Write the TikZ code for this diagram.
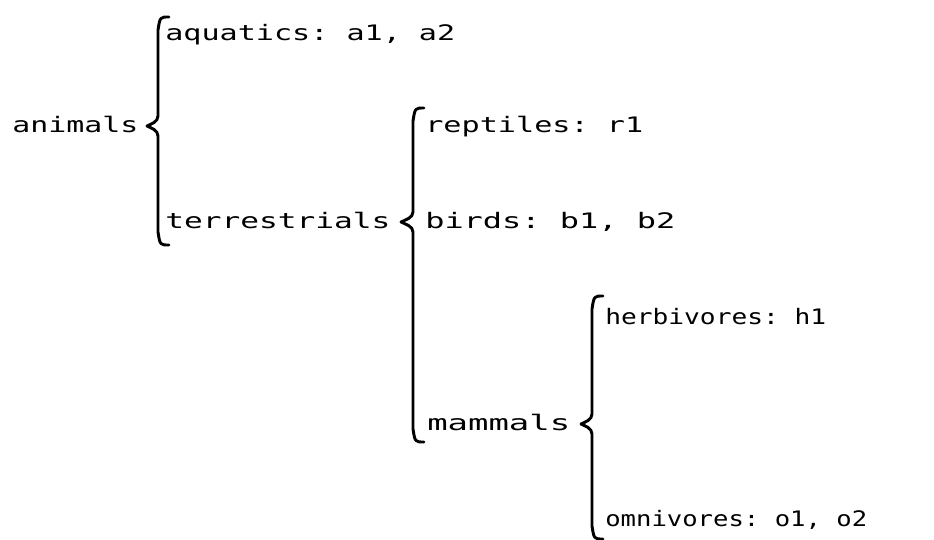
\documentclass[tikz,border=0pt]{standalone}
\usepackage{fontspec}
\usepackage{graphicx}
\setmonofont{DejaVu Sans Mono}
% stretch a label horizontally to a given width (pt), keeping its height
\newcommand\fitw[2]{\resizebox{#1pt}{\height}{#2}}
% curly brace: vertical x, top y, tip x, tip y, bottom y
\newcommand\curlybrace[5]{%
  \draw[bracestyle] ({#1+11},{#2}) .. controls ({#1+2},{#2}) .. ({#1},{#2+13})
    -- ({#1},{#4-10}) .. controls ({#1},{#4-4}) and ({#3+4},{#4-2}) .. ({#3},{#4})
    .. controls ({#3+4},{#4+2}) and ({#1},{#4+4}) .. ({#1},{#4+10})
    -- ({#1},{#5-13}) .. controls ({#1+2},{#5}) .. ({#1+11},{#5});}
\begin{document}
\begin{tikzpicture}[x=0.75pt,y=-0.75pt,
    lbl/.style={anchor=base west,inner sep=0pt,font=\ttfamily\fontsize{16}{16}\selectfont},
    bracestyle/.style={line width=2.2pt,line cap=round,line join=round}]
  \useasboundingbox (0,0) rectangle (934,539);

  % first level
  \node[lbl] (animals) at (12,132) {\fitw{94.5}{animals}};
  \curlybrace{158}{17}{147}{126}{245}
  \node[lbl] (aquatics) at (165,40) {\fitw{217.5}{aquatics: a1, a2}};
  \node[lbl] (terr) at (165,228) {\fitw{168.75}{terrestrials}};

  % second level
  \curlybrace{413}{108}{401}{222}{442}
  \node[lbl] (rept) at (425,132) {\fitw{163.5}{reptiles: r1}};
  \node[lbl] (birds) at (425,228) {\fitw{187.5}{birds: b1, b2}};
  \node[lbl] (mamm) at (427,430) {\fitw{107.25}{mammals}};

  % third level
  \curlybrace{592}{296}{581}{424}{539}
  \node[lbl] (herb) at (605,324) {\fitw{165.75}{herbivores: h1}};
  \node[lbl] (omni) at (605,526) {\fitw{196.5}{omnivores: o1, o2}};
\end{tikzpicture}
\end{document}
